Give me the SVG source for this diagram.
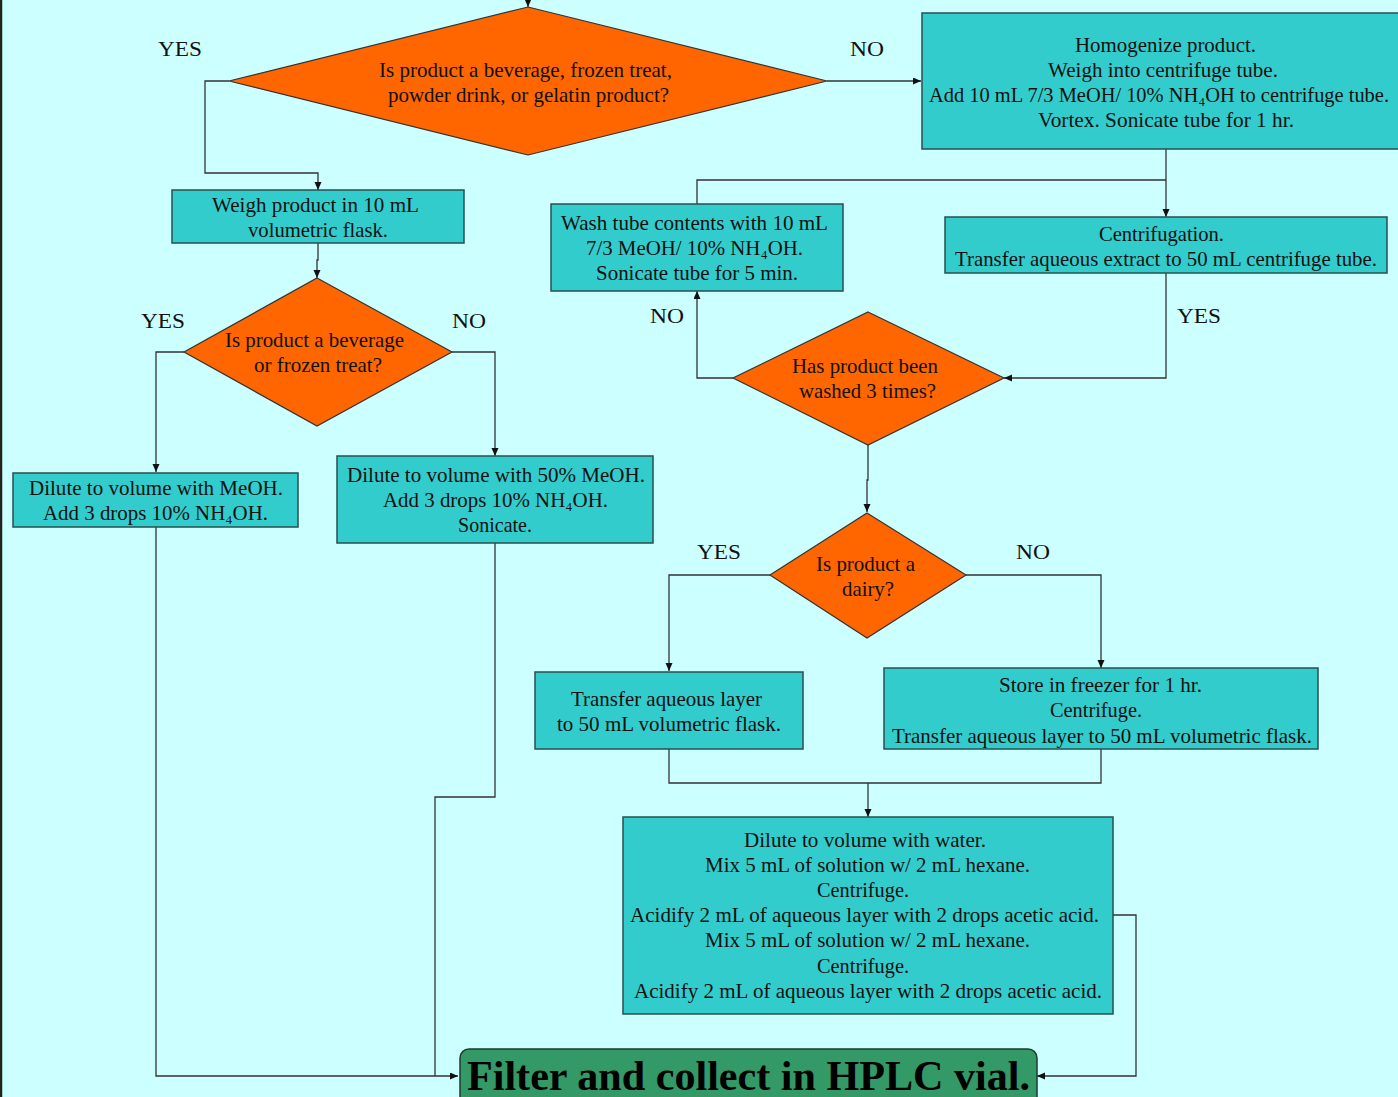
<svg xmlns="http://www.w3.org/2000/svg" width="1398" height="1097" viewBox="0 0 1398 1097">
<style>
.bg{fill:#CCFFFF}
.box{fill:#33CCCC;stroke:#2a4f4f;stroke-width:1.5}
.dia{fill:#FF6600;stroke:#333;stroke-width:1.2}
.fin{fill:#339966;stroke:#1e3d2c;stroke-width:1.5}
.c{fill:none;stroke:#333;stroke-width:1.3}
text{font-family:"Liberation Serif","Times New Roman",serif;font-size:21.5px;fill:#111;text-anchor:middle}
.lbl{font-size:22px}
.big{font-size:42px;font-weight:bold;fill:#000}
.sm{font-size:20.5px}
</style>
<defs>
<marker id="ah" markerWidth="9" markerHeight="8" refX="8" refY="3.5" orient="auto" markerUnits="userSpaceOnUse">
<path d="M0,0 L8,3.5 L0,7 z" fill="#111"/>
</marker>
</defs>
<rect class="bg" x="0" y="0" width="1398" height="1097"/>
<line x1="1" y1="0" x2="1" y2="1097" stroke="#222" stroke-width="2.5"/>

<g id="connectors">
<path class="c" d="M528,0 L528,7" marker-end="url(#ah)"/>
<path class="c" d="M827,81 L921,81" marker-end="url(#ah)"/>
<path class="c" d="M229,81 L205,81 L205,173 L318,173 L318,190" marker-end="url(#ah)"/>
<path class="c" d="M318,243 L318,260 L317,260 L317,278" marker-end="url(#ah)"/>
<path class="c" d="M184,352 L156,352 L156,472" marker-end="url(#ah)"/>
<path class="c" d="M452,352 L495,352 L495,456" marker-end="url(#ah)"/>
<path class="c" d="M156,527 L156,1076 L458,1076" marker-end="url(#ah)"/>
<path class="c" d="M495,543 L495,797 L435,797 L435,1076"/>
<path class="c" d="M1166,149 L1166,217" marker-end="url(#ah)"/>
<path class="c" d="M1166,180 L697,180 L697,204"/>
<path class="c" d="M1166,273 L1166,378 L1004,378" marker-end="url(#ah)"/>
<path class="c" d="M733,378 L697,378 L697,291" marker-end="url(#ah)"/>
<path class="c" d="M868,445 L868,480 L867,480 L867,512" marker-end="url(#ah)"/>
<path class="c" d="M770,575 L669,575 L669,671" marker-end="url(#ah)"/>
<path class="c" d="M966,575 L1101,575 L1101,668" marker-end="url(#ah)"/>
<path class="c" d="M669,749 L669,783 L1101,783 L1101,749"/>
<path class="c" d="M868,783 L868,817" marker-end="url(#ah)"/>
<path class="c" d="M1113,915 L1136,915 L1136,1076 L1037,1076" marker-end="url(#ah)"/>
</g>

<g id="labels">
<text class="lbl" x="180" y="56" textLength="44" lengthAdjust="spacingAndGlyphs">YES</text>
<text class="lbl" x="867" y="56" textLength="34" lengthAdjust="spacingAndGlyphs">NO</text>
<text class="lbl" x="163" y="328" textLength="44" lengthAdjust="spacingAndGlyphs">YES</text>
<text class="lbl" x="469" y="328" textLength="34" lengthAdjust="spacingAndGlyphs">NO</text>
<text class="lbl" x="667" y="323" textLength="34" lengthAdjust="spacingAndGlyphs">NO</text>
<text class="lbl" x="1199" y="323" textLength="44" lengthAdjust="spacingAndGlyphs">YES</text>
<text class="lbl" x="719" y="559" textLength="44" lengthAdjust="spacingAndGlyphs">YES</text>
<text class="lbl" x="1033" y="559" textLength="34" lengthAdjust="spacingAndGlyphs">NO</text>
</g>

<g id="d1">
<polygon class="dia" points="528,7 827,81 528,155 229,81"/>
<text x="525.5" y="77" textLength="293" lengthAdjust="spacingAndGlyphs">Is product a beverage,  frozen  treat,</text>
<text x="528.5" y="102" textLength="281" lengthAdjust="spacingAndGlyphs">powder drink, or gelatin product?</text>
</g>

<g id="homogenize">
<rect class="box" x="922" y="13" width="477" height="136"/>
<text x="1165.5" y="52" textLength="181" lengthAdjust="spacingAndGlyphs">Homogenize product.</text>
<text x="1163" y="77" textLength="230" lengthAdjust="spacingAndGlyphs">Weigh into centrifuge tube.</text>
<text class="sm" x="1159" y="102" textLength="460" lengthAdjust="spacingAndGlyphs">Add 10 mL 7/3 MeOH/ 10% NH₄OH to centrifuge tube.</text>
<text x="1166" y="127" textLength="256" lengthAdjust="spacingAndGlyphs">Vortex. Sonicate tube for 1 hr.</text>
</g>

<g id="weigh">
<rect class="box" x="172" y="190" width="292" height="53"/>
<text x="315.5" y="212" textLength="207" lengthAdjust="spacingAndGlyphs">Weigh product in 10 mL</text>
<text x="318" y="237" textLength="140" lengthAdjust="spacingAndGlyphs">volumetric flask.</text>
</g>

<g id="wash">
<rect class="box" x="551" y="204" width="292" height="87"/>
<text x="694.5" y="230" textLength="267" lengthAdjust="spacingAndGlyphs">Wash tube contents with 10 mL</text>
<text x="694.5" y="255" textLength="217" lengthAdjust="spacingAndGlyphs">7/3 MeOH/ 10% NH₄OH.</text>
<text x="697" y="280" textLength="202" lengthAdjust="spacingAndGlyphs">Sonicate tube for 5 min.</text>
</g>

<g id="centrifugation">
<rect class="box" x="945" y="217" width="442" height="56"/>
<text x="1161.5" y="241" textLength="125" lengthAdjust="spacingAndGlyphs">Centrifugation.</text>
<text x="1166" y="266" textLength="422" lengthAdjust="spacingAndGlyphs">Transfer aqueous extract to 50 mL centrifuge tube.</text>
</g>

<g id="d2">
<polygon class="dia" points="317,278 452,352 317,426 184,352"/>
<text x="314.5" y="347" textLength="179" lengthAdjust="spacingAndGlyphs">Is product a beverage</text>
<text x="318" y="372" textLength="128" lengthAdjust="spacingAndGlyphs">or frozen treat?</text>
</g>

<g id="d3">
<polygon class="dia" points="868,312 1004,378 868,445 733,378"/>
<text x="865" y="373" textLength="146" lengthAdjust="spacingAndGlyphs">Has product been</text>
<text x="867.5" y="398" textLength="137" lengthAdjust="spacingAndGlyphs">washed 3 times?</text>
</g>

<g id="dilute-meoh">
<rect class="box" x="13" y="473" width="285" height="54"/>
<text x="156" y="495" textLength="254" lengthAdjust="spacingAndGlyphs">Dilute to volume with MeOH.</text>
<text x="155.5" y="520" textLength="225" lengthAdjust="spacingAndGlyphs">Add 3 drops 10% NH₄OH.</text>
</g>

<g id="dilute-50">
<rect class="box" x="337" y="456" width="316" height="87"/>
<text x="496" y="482" textLength="298" lengthAdjust="spacingAndGlyphs">Dilute to volume with 50% MeOH.</text>
<text x="495.5" y="507" textLength="225" lengthAdjust="spacingAndGlyphs">Add 3 drops 10% NH₄OH.</text>
<text x="495" y="532" textLength="74" lengthAdjust="spacingAndGlyphs">Sonicate.</text>
</g>

<g id="d4">
<polygon class="dia" points="867,513 966,575 867,638 770,575"/>
<text x="865.5" y="571" textLength="99" lengthAdjust="spacingAndGlyphs">Is product a</text>
<text x="868" y="596" textLength="52" lengthAdjust="spacingAndGlyphs">dairy?</text>
</g>

<g id="transfer">
<rect class="box" x="535" y="672" width="268" height="77"/>
<text x="666.5" y="706" textLength="191" lengthAdjust="spacingAndGlyphs">Transfer aqueous layer</text>
<text x="669" y="731" textLength="224" lengthAdjust="spacingAndGlyphs">to 50 mL volumetric flask.</text>
</g>

<g id="store">
<rect class="box" x="884" y="668" width="434" height="81"/>
<text x="1100.5" y="692" textLength="203" lengthAdjust="spacingAndGlyphs">Store in freezer for 1 hr.</text>
<text x="1096" y="717" textLength="92" lengthAdjust="spacingAndGlyphs">Centrifuge.</text>
<text x="1102" y="743" textLength="420" lengthAdjust="spacingAndGlyphs">Transfer aqueous layer to 50 mL volumetric flask.</text>
</g>

<g id="dilute-water">
<rect class="box" x="623" y="817" width="490" height="197"/>
<text x="865" y="847" textLength="242" lengthAdjust="spacingAndGlyphs">Dilute to volume with water.</text>
<text x="867.5" y="872" textLength="325" lengthAdjust="spacingAndGlyphs">Mix 5 mL of solution w/ 2 mL hexane.</text>
<text x="863" y="897" textLength="92" lengthAdjust="spacingAndGlyphs">Centrifuge.</text>
<text x="864.5" y="922" textLength="469" lengthAdjust="spacingAndGlyphs">Acidify 2 mL of aqueous layer with 2 drops acetic acid.</text>
<text x="867.5" y="947" textLength="325" lengthAdjust="spacingAndGlyphs">Mix 5 mL of solution w/ 2 mL hexane.</text>
<text x="863" y="973" textLength="92" lengthAdjust="spacingAndGlyphs">Centrifuge.</text>
<text x="868" y="998" textLength="468" lengthAdjust="spacingAndGlyphs">Acidify 2 mL of aqueous layer with 2 drops acetic acid.</text>
</g>

<g id="filter">
<rect class="fin" x="460" y="1049" width="577" height="70" rx="9" ry="9"/>
<text class="big" x="748.5" y="1090" textLength="563" lengthAdjust="spacingAndGlyphs">Filter and collect in HPLC vial.</text>
</g>
</svg>
